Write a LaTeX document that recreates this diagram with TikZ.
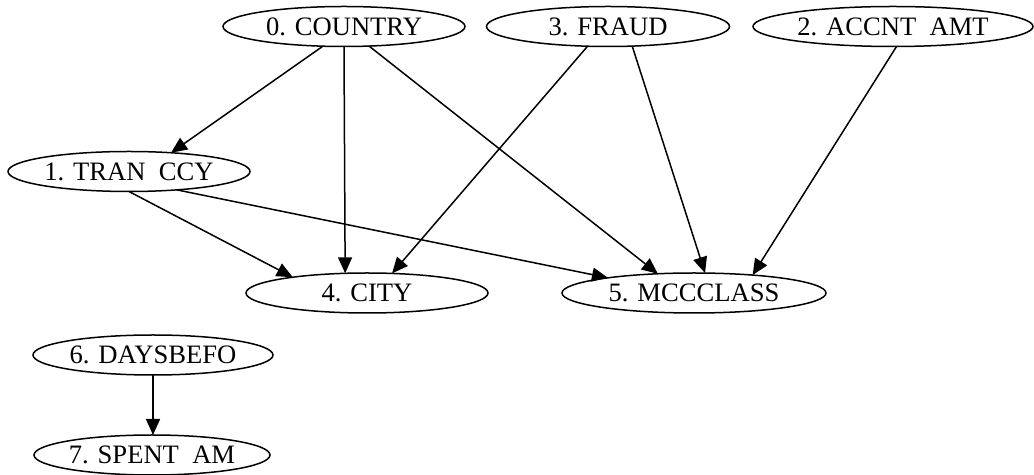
\documentclass[tikz,border=0pt]{standalone}
\usepackage{fontspec}
\setmainfont{Liberation Serif}
\usetikzlibrary{shapes.geometric,arrows.meta}
\tikzset{
   var/.style = {%
    shape=ellipse,
    draw=black,
    line width=0.75pt,
    inner sep=0pt, outer sep=0pt,
    minimum height=20pt,
    font=\fontsize{13.3}{13.3}\selectfont},
 arrow/.style = {%
    draw=black,
    line width=0.75pt,
    -{Triangle[length=8pt,width=7pt]}},
    }

\begin{document}
\begin{tikzpicture}[x=0.5pt,y=-0.5pt]
    \useasboundingbox (0,0) rectangle (1034,475);
    % variables
    \node[var, minimum width=121pt]   (country) at (344,26.5)  {0. COUNTRY};
    \node[var, minimum width=121.5pt] (fraud)   at (608,26.5)  {3. FRAUD};
    \node[var, minimum width=140pt]   (accnt)   at (893,26.5)  {2. ACCNT~~AMT};
    \node[var, minimum width=121pt]   (tranccy) at (129,171.5) {1. TRAN~~CCY};
    \node[var, minimum width=121pt]   (city)    at (367,293)   {4. CITY};
    \node[var, minimum width=132pt]   (mcc)     at (694,293)   {5. MCCCLASS};
    \node[var, minimum width=120pt]   (days)    at (153,355)   {6. DAYSBEFO};
    \node[var, minimum width=118pt]   (spent)   at (152,455)   {7. SPENT~~AM};
    % edges
    \draw[arrow] (country.-137) -- (tranccy.24);
    \draw[arrow] (country.south) -- (city.138);
    \draw[arrow] (country.-38) -- (mcc.152);
    \draw[arrow] (fraud.-136) -- (city.38);
    \draw[arrow] (fraud.-39) -- (mcc.61);
    \draw[arrow] (accnt.-80) -- (mcc.17);
    \draw[arrow] (tranccy.south) -- (city.168);
    \draw[arrow] (tranccy.-21) -- (mcc.170);
    \draw[arrow] (days.south) -- (days.south |- spent.north);
\end{tikzpicture}
\end{document}
